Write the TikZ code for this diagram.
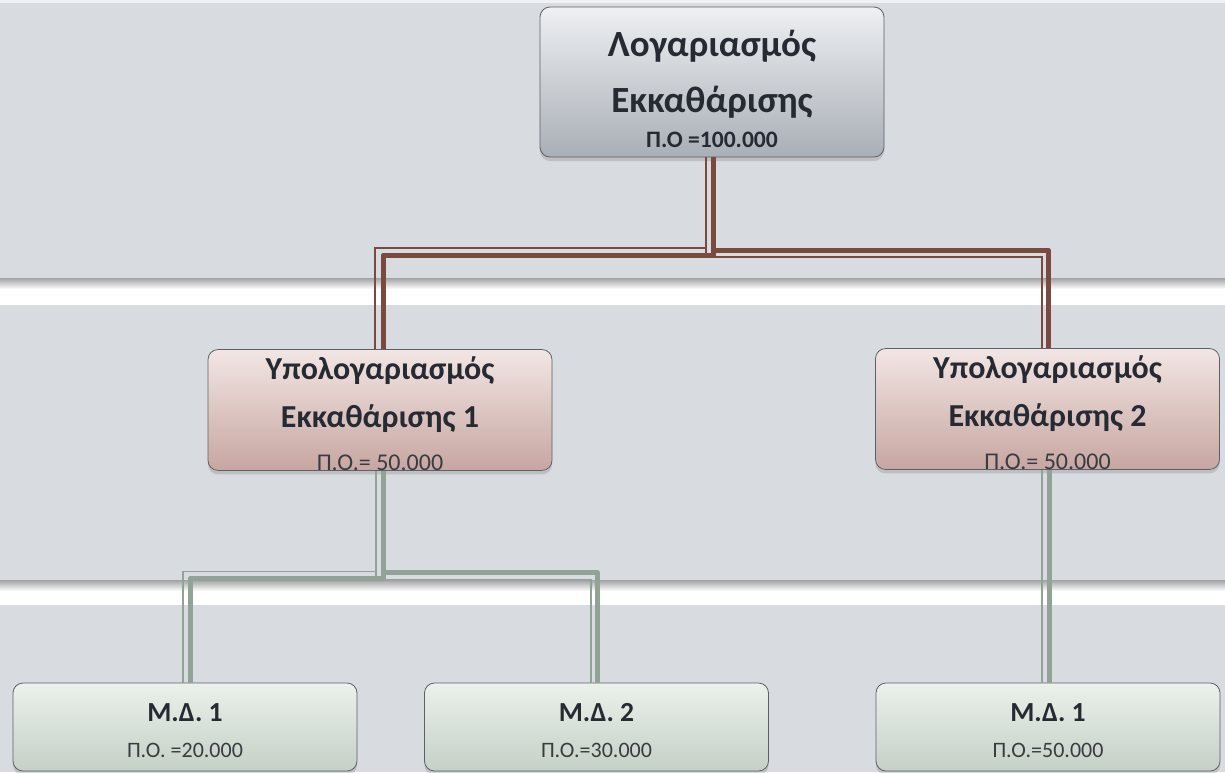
\documentclass[tikz,border=0pt]{standalone}
\usepackage{fontspec}
\setmainfont{Carlito}
\usetikzlibrary{calc}
\usetikzlibrary{shadows}

\definecolor{bggray}{HTML}{D8DBDF}
\definecolor{sepgray}{HTML}{A2A3A5}
\definecolor{boxline}{HTML}{5E6066}
\definecolor{txtdark}{HTML}{262A33}
\definecolor{txtsoft}{HTML}{3A3C42}
\definecolor{brnline}{HTML}{7B4A3E}
\definecolor{grnline}{HTML}{91A396}
\definecolor{topfillA}{HTML}{EEF0F2}
\definecolor{topfillB}{HTML}{A9AFB7}
\definecolor{subfillA}{HTML}{F2E6E4}
\definecolor{subfillB}{HTML}{C7A6A1}
\definecolor{mdfillA}{HTML}{EBF1EB}
\definecolor{mdfillB}{HTML}{C5D0C6}

\begin{document}
\begin{tikzpicture}[x=0.75pt,y=-0.75pt,
	box/.style={rounded corners=7.5pt, draw=boxline, line width=0.6pt, align=center, inner sep=0pt,
		text=txtdark, drop shadow={shadow xshift=0pt, shadow yshift=-3pt, opacity=0.3}},
	topbox/.style={box, minimum width=258pt, minimum height=112.5pt, top color=topfillA, bottom color=topfillB,
		font=\fontsize{27.7}{30}\selectfont\bfseries},
	subbox/.style={box, minimum width=258pt, minimum height=90pt, top color=subfillA, bottom color=subfillB,
		font=\fontsize{24}{27}\selectfont\bfseries},
	mdbox/.style={box, minimum width=258pt, minimum height=66pt, top color=mdfillA, bottom color=mdfillB,
		font=\fontsize{20.7}{24}\selectfont\bfseries},
	brnthick/.style={draw=brnline, line width=3.75pt, line join=round},
	brnthin/.style={draw=brnline, line width=1.1pt},
	grnthick/.style={draw=grnline, line width=3.75pt, line join=round},
	grnthin/.style={draw=grnline, line width=1.1pt}]

	\useasboundingbox (0,0) rectangle (1225,772);
	\fill[bggray] (0,0) rectangle (1225,772);
	\fill[white!60!bggray] (0,0) rectangle (1225,3);

	% white bands
	\shade[top color=sepgray, bottom color=white] (0,278) rectangle (1225,289);
	\fill[white] (0,288.5) rectangle (1225,305);
	\shade[top color=sepgray, bottom color=white] (0,580) rectangle (1225,591);
	\fill[white] (0,590.5) rectangle (1225,605);

	\node[topbox] (top) at (712,82) {\rule{0pt}{30pt}Λογαριασμός\\[12pt]Εκκαθάρισης\\[-3.5pt]{\fontsize{17.7}{20}\selectfont Π.Ο =100.000}};

	\node[subbox] (sub1) at (380,410) {\rule{0pt}{22.5pt}Υπολογαριασμός\\[9pt]Εκκαθάρισης 1\\[5pt]{\fontsize{18}{20}\selectfont\mdseries\color{txtsoft}Π.Ο.= 50.000}};
	\node[subbox] (sub2) at (1047.5,409) {\rule{0pt}{22.5pt}Υπολογαριασμός\\[9pt]Εκκαθάρισης 2\\[5pt]{\fontsize{18}{20}\selectfont\mdseries\color{txtsoft}Π.Ο.= 50.000}};

	\node[mdbox] (md1) at (185,727) {\rule{0pt}{18.5pt}Μ.Δ. 1\\[3pt]{\fontsize{16.5}{19}\selectfont\mdseries\color{txtsoft}Π.Ο. =20.000}};
	\node[mdbox] (md2) at (596.5,727) {\rule{0pt}{18.5pt}Μ.Δ. 2\\[3pt]{\fontsize{16.5}{19}\selectfont\mdseries\color{txtsoft}Π.Ο.=30.000}};
	\node[mdbox] (md3) at (1048,727) {\rule{0pt}{18.5pt}Μ.Δ. 1\\[3pt]{\fontsize{16.5}{19}\selectfont\mdseries\color{txtsoft}Π.Ο.=50.000}};

	% top -> sub
	\draw[brnthin] ($(top.south)+(-6,0)$) |- ($(sub1.north)+(-5,-101)$) -- ($(sub1.north)+(-5,0)$);
	\draw[brnthin] ($(top.south)+(-6,0)$) |- ($(sub2.north)+(-5.5,-91)$) -- ($(sub2.north)+(-5.5,0)$);
	\draw[brnthick] ($(top.south)+(1,0)$) |- ($(sub1.north)+(3,-94)$) -- ($(sub1.north)+(3,0)$);
	\draw[brnthick] ($(top.south)+(1,0)$) |- ($(sub2.north)+(0.5,-98)$) -- ($(sub2.north)+(0.5,0)$);

	% sub -> md
	\draw[grnthin] ($(sub1.south)+(-4,0)$) |- ($(md1.north)+(-2,-111)$) -- ($(md1.north)+(-2,0)$);
	\draw[grnthin] ($(sub1.south)+(-4,0)$) |- ($(md2.north)+(-5.5,-103)$) -- ($(md2.north)+(-5.5,0)$);
	\draw[grnthick] ($(sub1.south)+(3,0)$) |- ($(md1.north)+(5,-104)$) -- ($(md1.north)+(5,0)$);
	\draw[grnthick] ($(sub1.south)+(3,0)$) |- ($(md2.north)+(0.5,-110)$) -- ($(md2.north)+(0.5,0)$);
	\draw[grnthin] ($(sub2.south)+(-5.5,0)$) -- ($(md3.north)+(-6,0)$);
	\draw[grnthick] ($(sub2.south)+(1.5,0)$) -- ($(md3.north)+(1,0)$);

\end{tikzpicture}
\end{document}
